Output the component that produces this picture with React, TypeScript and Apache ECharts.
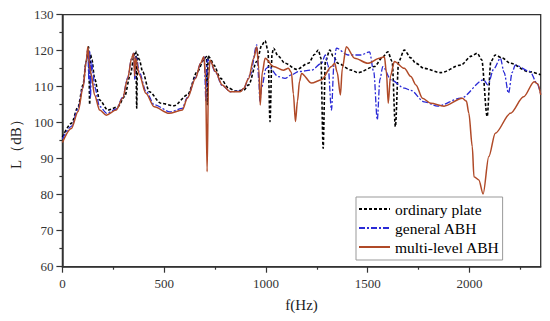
import React, { useEffect, useRef } from 'react';
import * as echarts from 'echarts';

const xMajorTicks = [0, 500, 1000, 1500, 2000];
const xMinorTicks = [250, 750, 1250, 1750, 2250];
const seriesNames = ['ordinary plate', 'general ABH', 'multi-level ABH'];

// [frequency Hz, level dB]
const ordinaryPlate: number[][] = [
  [0, 96], [44, 99.8], [77, 104.4], [101, 110.5], [117, 117], [129, 121.1], [134, 105], [138, 119], [145, 117.5],
  [158, 112.3], [183, 106.3], [223, 103.5], [272, 104.4], [305, 107.2], [334, 113.3], [353, 118.8], [361, 119.9],
  [365, 104], [369, 119], [378, 117.5], [394, 114.2], [427, 108.6], [484, 105.4], [549, 104.7], [614, 107.7],
  [663, 114.2], [695, 117.4], [708, 118.4], [712, 105], [716, 118.6], [725, 118], [744, 116], [777, 112.3],
  [817, 109.6], [850, 108.8], [890, 109], [915, 110.5], [955, 117], [980, 121.6], [996, 122.8], [1010, 120],
  [1020, 100.3], [1030, 119], [1037, 120.7], [1060, 118.5], [1094, 116.5], [1151, 114.8], [1208, 116.5],
  [1240, 119], [1257, 120.2], [1270, 118], [1281, 92.9], [1292, 117], [1314, 120.2], [1330, 118.5], [1354, 116.5],
  [1420, 114.6], [1452, 113.9], [1533, 115.6], [1575, 118.3], [1599, 119.7], [1620, 117], [1636, 98.9],
  [1652, 117], [1680, 120.2], [1712, 118], [1737, 116.5], [1777, 115.1], [1859, 113.9], [1957, 116],
  [2010, 118.5], [2038, 119.3], [2060, 117.5], [2087, 101.7], [2105, 117], [2127, 118.8], [2160, 118],
  [2201, 116.5], [2290, 114.2], [2350, 113.3],
];

const generalABH: number[][] = [
  [0, 95.5], [44, 99], [77, 103.8], [101, 110], [117, 117], [125, 120.5], [130, 112], [134, 120], [138, 107],
  [143, 117], [150, 114], [158, 110], [183, 104.5], [218, 102.6], [264, 103.8], [296, 107], [321, 112.5],
  [340, 117.8], [350, 119.3], [356, 112], [362, 118.5], [378, 114], [410, 108.8], [451, 105], [530, 103],
  [589, 104], [614, 107], [654, 112.5], [679, 116.5], [697, 118.3], [705, 106], [712, 117.5], [725, 117],
  [752, 114], [785, 110.3], [825, 108.6], [874, 108.8], [890, 109.5], [923, 113.3], [955, 121.6], [965, 112],
  [970, 106], [980, 110], [1000, 115], [1013, 115.6], [1061, 112.8], [1094, 112.3], [1126, 113.3],
  [1159, 114.2], [1224, 114.6], [1273, 116.5], [1292, 118.8], [1305, 116], [1322, 103.5], [1334, 116],
  [1346, 120.7], [1403, 118.8], [1468, 118.8], [1509, 119.7], [1530, 114], [1547, 100.8], [1560, 112],
  [1574, 115.6], [1615, 111.9], [1680, 109.6], [1712, 109], [1777, 105.8], [1843, 104.6], [1957, 106.8],
  [2070, 111.9], [2090, 110.5], [2120, 115], [2152, 117.9], [2170, 114], [2192, 108.2], [2210, 114],
  [2225, 116], [2298, 114.2], [2331, 111], [2350, 108],
];

const multiLevelABH: number[][] = [
  [0, 94.5], [44, 98.4], [77, 103.1], [101, 109.6], [117, 117], [125, 121.1], [133, 116], [142, 113.3],
  [158, 107.7], [183, 103.5], [215, 102.1], [264, 103.5], [296, 106.8], [321, 112.3], [340, 117.9], [350, 119.3],
  [355, 113], [360, 118], [378, 113.3], [410, 108.2], [451, 104.4], [524, 102.6], [589, 103.5], [614, 106.8],
  [654, 112.3], [679, 116.5], [695, 118.3], [703, 113], [711, 86.4], [718, 112], [725, 117.4], [752, 114.2],
  [785, 110.5], [825, 108.6], [874, 108.6], [890, 109.5], [915, 112.3], [940, 117.9], [955, 121.1], [965, 115],
  [972, 104.9], [982, 114], [996, 117.9], [1037, 115.6], [1086, 114.6], [1110, 115.1], [1125, 114], [1135, 108],
  [1145, 100.3], [1155, 106], [1165, 111.5], [1175, 113.7], [1224, 111], [1273, 111.9], [1322, 115.6],
  [1338, 116.5], [1350, 114], [1366, 107.7], [1375, 115], [1395, 121.1], [1436, 117.9], [1501, 116.5],
  [1558, 117.9], [1582, 118.3], [1592, 114], [1601, 105.4], [1612, 113], [1631, 117], [1680, 115.1],
  [1712, 112.8], [1737, 110.5], [1769, 106.8], [1810, 105.4], [1875, 104.6], [1965, 106.8], [1985, 106],
  [1997, 102.6], [2014, 93.3], [2022, 85], [2046, 84.1], [2067, 80.2], [2095, 90.6], [2127, 97.1],
  [2201, 102.6], [2266, 107.2], [2318, 111.4], [2335, 110.8], [2350, 107.7],
];

const FONT = 'Liberation Serif';

export default function App() {
  const ref = useRef<HTMLDivElement>(null);
  useEffect(() => {
    document.body.style.margin = '0';
    const chart = echarts.init(ref.current!, null, { renderer: 'svg' });
    chart.setOption({
      animation: false,
      backgroundColor: '#fff',
      textStyle: { fontFamily: FONT },
      grid: {
        left: 59.3,
        right: 9.3,
        top: 14.7,
        bottom: 54.3,
        show: true,
        borderColor: '#333',
        borderWidth: 1.3,
      },
      legend: {
        orient: 'vertical',
        left: 356,
        top: 197,
        itemWidth: 31,
        itemHeight: 14,
        itemGap: 3,
        padding: [4, 3, 5, 2],
        borderColor: '#999',
        borderWidth: 1,
        backgroundColor: '#fff',
        itemStyle: { opacity: 0 },
        textStyle: { fontFamily: FONT, fontSize: 15.5, color: '#000' },
        data: seriesNames,
      },
      xAxis: [
        {
          type: 'value',
          min: 0,
          max: 2350,
          name: 'f(Hz)',
          nameLocation: 'middle',
          nameGap: 31,
          nameTextStyle: { fontFamily: FONT, fontSize: 15, color: '#222' },
          axisLine: { lineStyle: { color: '#333', width: 1.5 } },
          axisTick: { customValues: xMajorTicks, length: 6, lineStyle: { color: '#333', width: 1.2 } },
          axisLabel: {
            customValues: xMajorTicks,
            fontFamily: FONT,
            fontSize: 13,
            color: '#333',
            margin: 10,
            formatter: (v: number) => String(v),
          },
          splitLine: { show: false },
        },
        {
          type: 'value',
          min: 0,
          max: 2350,
          position: 'bottom',
          axisLine: { show: false },
          axisTick: { customValues: xMinorTicks, length: 3, lineStyle: { color: '#333', width: 1.2 } },
          axisLabel: { show: false },
          splitLine: { show: false },
        },
      ],
      yAxis: {
        type: 'value',
        min: 60,
        max: 130,
        interval: 10,
        name: 'L（dB）',
        nameLocation: 'middle',
        nameGap: 34,
        nameRotate: 90,
        nameTextStyle: { fontFamily: FONT, fontSize: 15, color: '#222' },
        axisLine: { lineStyle: { color: '#333', width: 1.5 } },
        axisTick: { length: 6, lineStyle: { color: '#333', width: 1.2 } },
        minorTick: { show: true, splitNumber: 2, length: 3, lineStyle: { color: '#333', width: 1.2 } },
        axisLabel: { fontFamily: FONT, fontSize: 13, color: '#333', margin: 9 },
        splitLine: { show: false },
      },
      series: [
        {
          name: seriesNames[0],
          type: 'line',
          data: ordinaryPlate,
          symbol: 'none',
          smooth: 0.3,
          smoothMonotone: 'x',
          lineStyle: { color: '#000', width: 1.6, type: [3, 2] },
          itemStyle: { color: '#000' },
        },
        {
          name: seriesNames[1],
          type: 'line',
          data: generalABH,
          symbol: 'none',
          smooth: 0.3,
          smoothMonotone: 'x',
          lineStyle: { color: '#2a2ad6', width: 1.3, type: [6, 2, 2, 2] },
          itemStyle: { color: '#2a2ad6' },
        },
        {
          name: seriesNames[2],
          type: 'line',
          data: multiLevelABH,
          symbol: 'none',
          smooth: 0.3,
          smoothMonotone: 'x',
          lineStyle: { color: '#b04a28', width: 1.5 },
          itemStyle: { color: '#b04a28' },
        },
      ],
    });
    return () => chart.dispose();
  }, []);
  return <div ref={ref} style={{ width: 550, height: 321, position: 'fixed', left: 0, top: 0 }} />;
}
